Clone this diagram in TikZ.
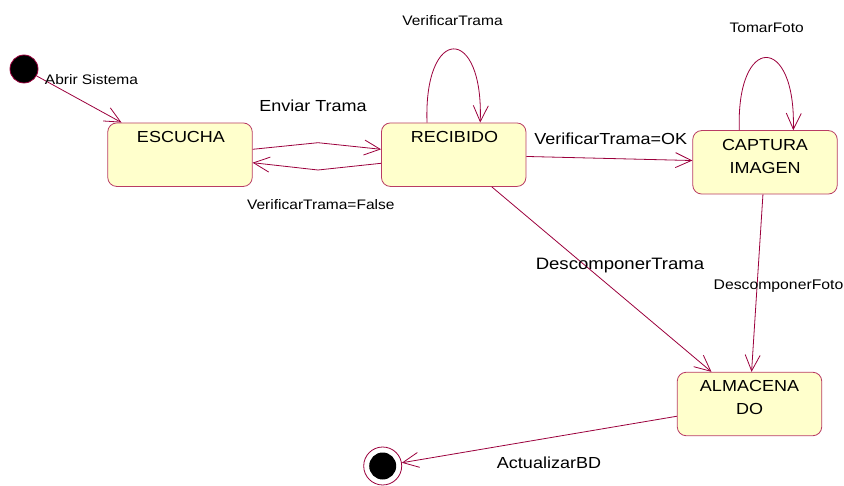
\documentclass[tikz,border=0pt]{standalone}
\usepackage{fontspec}
\setmainfont{Liberation Sans}[FakeStretch=1.125]
\usetikzlibrary{arrows.meta,calc}

\definecolor{wire}{RGB}{155,0,60}
\definecolor{stateline}{RGB}{185,60,100}
\definecolor{statefill}{RGB}{255,255,204}

\tikzset{
  statebox/.style={draw=stateline, fill=statefill, line width=0.8pt,
    rounded corners=9pt, minimum width=144.5pt, minimum height=63.5pt,
    inner sep=0pt},
  boxtext/.style={inner sep=0pt, anchor=north, align=center,
    font=\fontsize{16}{23.3}\selectfont},
  startdot/.style={circle, draw=wire, fill=black, line width=0.8pt,
    minimum size=28pt, inner sep=0pt},
  endring/.style={circle, draw=wire, fill=white, line width=0.8pt,
    minimum size=38pt, inner sep=0pt},
  enddot/.style={circle, fill=black, minimum size=27pt, inner sep=0pt},
  trans/.style={draw=wire, line width=0.8pt,
    -{Straight Barb[length=16pt,width=15pt]}},
  lblsmall/.style={inner sep=0pt, anchor=base, font=\fontsize{13.8}{16}\selectfont},
  lblbig/.style={inner sep=0pt, anchor=base, font=\fontsize{16}{19}\selectfont},
}

\begin{document}
\begin{tikzpicture}[x=1pt, y=-1pt]
\useasboundingbox (0,0) rectangle (844,486);

% states
\node[startdot] (init) at (24,69) {};
\node[statebox] (esc) at (180,154.7) {};
\node[statebox] (rec) at (453.7,154.7) {};
\node[statebox] (cap) at (765,162.3) {};
\node[statebox] (alm) at (749.5,404) {};
\node[endring] (fin) at (382.7,466) {};
\node[enddot] (fin-in) at (fin) {};

% state names
\node[boxtext] (esc-t) at (181,130.8) {ESCUCHA};
\node[boxtext] (rec-t) at (454.5,130.8) {RECIBIDO};
\node[boxtext] (cap-t) at (765,139.3) {CAPTURA\\IMAGEN};
\node[boxtext] (alm-t) at (749.5,380.3) {ALMACENA\\DO};

% bend points of the two parallel transitions
\coordinate (up-bend) at (318,142.7);
\coordinate (down-bend) at (318,170);

% transitions
\draw[trans] (init) -- (esc);
\draw[trans] ($(esc.east)+(0,-5.4)$) -- (up-bend) -- ($(rec.west)+(0,-5.4)$);
\draw[trans] ($(rec.west)+(0,8.6)$) -- (down-bend) -- ($(esc.east)+(0,8)$);
\draw[trans] ($(rec.north)+(-26.7,0)$) .. controls ($(rec.north)+(-30,-98)$)
  and ($(rec.north)+(30,-98)$) .. ($(rec.north)+(26.5,0)$);
\draw[trans] ($(cap.north)+(-25.7,0)$) .. controls ($(cap.north)+(-29,-96.7)$)
  and ($(cap.north)+(31,-96.7)$) .. ($(cap.north)+(28.3,0)$);
\draw[trans] (rec) -- (cap);
\draw[trans] (rec) -- (alm);
\draw[trans] (cap) -- (alm);
\draw[trans] (alm) -- (fin);

% transition labels
\node[lblsmall] (l-abrir) at (91.5,84.7) {Abrir Sistema};
\node[lblbig] (l-enviar) at (313,111.7) {Enviar Trama};
\node[lblsmall] (l-false) at (320.8,210) {VerificarTrama=False};
\node[lblsmall] (l-loop) at (452.5,26) {VerificarTrama};
\node[lblsmall] (l-foto) at (766.7,32.3) {TomarFoto};
\node[lblbig] (l-ok) at (610.8,145) {VerificarTrama=OK};
\node[lblbig, font=\fontsize{16.5}{19}\selectfont] (l-desc) at (620,270) {DescomponerTrama};
\node[lblsmall, font=\fontsize{14}{17}\selectfont] (l-dfoto) at (778.5,290) {DescomponerFoto};
\node[lblbig] (l-bd) at (549,468) {ActualizarBD};
\end{tikzpicture}
\end{document}
